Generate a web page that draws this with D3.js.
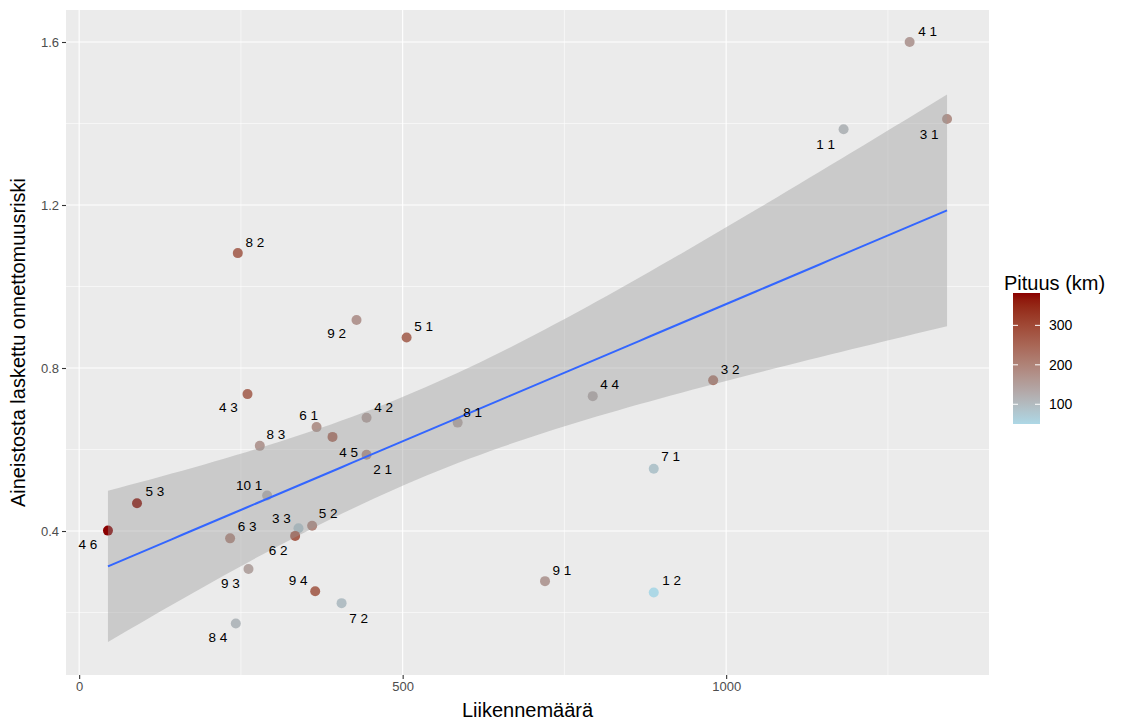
<!DOCTYPE html>
<html>
<head>
<meta charset="utf-8">
<script src="https://cdn.jsdelivr.net/npm/d3@7"></script>
<style>
  html, body { margin: 0; padding: 0; background: #ffffff; }
  svg { display: block; font-family: "Liberation Sans", Arial, sans-serif; }
</style>
</head>
<body>
<svg id="chart" width="1126" height="724"></svg>
<script>
// ---- data ----
const labels = ["4 6","5 3","4 3","6 1","4 5","4 2","2 1","8 3","9 2","5 1","8 1","8 2","10 1","3 3","5 2","6 2","6 3","9 3","9 4","7 2","8 4","4 4","3 2","7 1","9 1","1 2","4 1","1 1","3 1"];
const liikennemaara = [44.5, 89.4, 260.2, 366.9, 391.6, 444.2, 444.2, 279.2, 428.7, 506.1, 585.0, 245.2, 290.5, 339.0, 360.1, 333.8, 233.3, 261.7, 364.8, 405.6, 242.1, 793.8, 979.9, 888.1, 720.0, 888.1, 1283.6, 1181.5, 1341.4];
const riski = [0.401, 0.468, 0.736, 0.655, 0.631, 0.678, 0.587, 0.609, 0.918, 0.875, 0.666, 1.082, 0.487, 0.407, 0.413, 0.388, 0.382, 0.307, 0.252, 0.223, 0.173, 0.731, 0.770, 0.553, 0.277, 0.249, 1.600, 1.386, 1.411];
const pituus = [382, 370, 235, 170, 240, 150, 180, 160, 163, 235, 140, 240, 120, 80, 190, 260, 195, 140, 245, 95, 105, 130, 215, 85, 155, 50, 155, 110, 175];
const xTicks = [0, 500, 1000];
const xMinor = [250, 750, 1250];
const yTicks = [0.4, 0.8, 1.2, 1.6];
const yMinor = [0.2, 0.6, 1.0, 1.4];
const legendTicks = [100, 200, 300];

// ---- layout (label offsets in px, not data) ----
const labelOffsets = [[-20,14],[18,-12],[-19,13],[-8,-12],[16,16],[17,-10],[16,15],[16,-11],[-20,14],[17,-11],[15,-10],[17,-11],[-18,-10],[-17,-10],[16,-12],[-17,15],[17,-12],[-18,15],[-17,-11],[17,15],[-18,14],[17,-12],[17,-11],[17,-12],[17,-11],[18,-12],[18,-11],[-18,15],[-18,15]];

const svg = d3.select("#chart");
const P = {left: 66, right: 989, top: 10, bottom: 675};

const pts = labels.map((l, i) => ({label: l, x: liikennemaara[i], y: riski[i], c: pituus[i], off: labelOffsets[i]}));

// ---- linear regression with 95% CI ----
const n = pts.length;
const mx = d3.mean(pts, d => d.x), my = d3.mean(pts, d => d.y);
const sxx = d3.sum(pts, d => (d.x - mx) ** 2);
const sxy = d3.sum(pts, d => (d.x - mx) * (d.y - my));
const b1 = sxy / sxx, b0 = my - b1 * mx;
const sse = d3.sum(pts, d => (d.y - (b0 + b1 * d.x)) ** 2);
const s = Math.sqrt(sse / (n - 2));
const tq = 2.052; // t(0.975, df=27)
const xExt = d3.extent(pts, d => d.x);
const fit = d3.range(80).map(i => {
  const x = xExt[0] + (xExt[1] - xExt[0]) * i / 79;
  const yhat = b0 + b1 * x;
  const se = s * Math.sqrt(1 / n + (x - mx) ** 2 / sxx);
  return {x, y: yhat, lo: yhat - tq * se, hi: yhat + tq * se};
});

// ---- scales ----
const xs = xExt[1] - xExt[0];
const x = d3.scaleLinear().domain([xExt[0] - 0.05 * xs, xExt[1] + 0.05 * xs]).range([P.left, P.right]);
const yLo = Math.min(d3.min(pts, d => d.y), d3.min(fit, d => d.lo));
const yHi = Math.max(d3.max(pts, d => d.y), d3.max(fit, d => d.hi));
const ys = yHi - yLo;
const y = d3.scaleLinear().domain([yLo - 0.05 * ys, yHi + 0.05 * ys]).range([672, 12]);
const cExt = d3.extent(pituus);
const color = d3.scaleSequential(d3.interpolateLab("lightblue", "darkred")).domain(cExt);

// ---- panel ----
svg.append("rect").attr("x", P.left).attr("y", P.top).attr("width", P.right - P.left).attr("height", P.bottom - P.top).attr("fill", "#EBEBEB");
const grid = svg.append("g");
xMinor.forEach(v => grid.append("line").attr("x1", x(v)).attr("x2", x(v)).attr("y1", P.top).attr("y2", P.bottom).attr("stroke", "#fff").attr("stroke-width", 0.55));
yMinor.forEach(v => grid.append("line").attr("y1", y(v)).attr("y2", y(v)).attr("x1", P.left).attr("x2", P.right).attr("stroke", "#fff").attr("stroke-width", 0.55));
xTicks.forEach(v => grid.append("line").attr("x1", x(v)).attr("x2", x(v)).attr("y1", P.top).attr("y2", P.bottom).attr("stroke", "#fff").attr("stroke-width", 1.1));
yTicks.forEach(v => grid.append("line").attr("y1", y(v)).attr("y2", y(v)).attr("x1", P.left).attr("x2", P.right).attr("stroke", "#fff").attr("stroke-width", 1.1));

// ---- points ----
svg.append("g").selectAll("circle").data(pts).join("circle")
  .attr("cx", d => x(d.x)).attr("cy", d => y(d.y)).attr("r", 5)
  .attr("fill", d => color(d.c));

// ---- smooth ----
svg.append("path").datum(fit)
  .attr("d", d3.area().x(d => x(d.x)).y0(d => y(d.lo)).y1(d => y(d.hi)))
  .attr("fill", "#999999").attr("fill-opacity", 0.4);
svg.append("path").datum(fit)
  .attr("d", d3.line().x(d => x(d.x)).y(d => y(d.y)))
  .attr("fill", "none").attr("stroke", "#3366FF").attr("stroke-width", 2);

// ---- labels ----
svg.append("g").selectAll("text").data(pts).join("text")
  .attr("x", d => x(d.x) + d.off[0]).attr("y", d => y(d.y) + d.off[1])
  .attr("text-anchor", "middle").attr("dominant-baseline", "central")
  .attr("font-size", 13.5).attr("fill", "#000").text(d => d.label);

// ---- axes ----
const xAxis = svg.append("g").attr("transform", `translate(0,${P.bottom})`)
  .call(d3.axisBottom(x).tickValues(xTicks).tickFormat(d3.format("d")).tickSize(4).tickPadding(3));
const yAxis = svg.append("g").attr("transform", `translate(${P.left},0)`)
  .call(d3.axisLeft(y).tickValues(yTicks).tickFormat(d3.format(".1f")).tickSize(4).tickPadding(3));
[xAxis, yAxis].forEach(a => {
  a.select(".domain").remove();
  a.selectAll(".tick line").attr("stroke", "#333333").attr("stroke-width", 1.1);
  a.selectAll(".tick text").attr("fill", "#4D4D4D").attr("font-size", 13).attr("font-family", "Liberation Sans, Arial, sans-serif");
});

svg.append("text").attr("x", (P.left + P.right) / 2).attr("y", 717).attr("text-anchor", "middle")
  .attr("font-size", 20).attr("fill", "#000").text("Liikennemäärä");
svg.append("text").attr("transform", `translate(25,${(P.top + P.bottom) / 2}) rotate(-90)`).attr("text-anchor", "middle")
  .attr("font-size", 20).attr("fill", "#000").text("Aineistosta laskettu onnettomuusriski");

// ---- legend ----
const L = {x: 1013, top: 293, bottom: 424, w: 27};
const lc = d3.scaleLinear().domain(cExt).range([L.bottom, L.top]);
const defs = svg.append("defs");
const grad = defs.append("linearGradient").attr("id", "lg").attr("x1", 0).attr("y1", 1).attr("x2", 0).attr("y2", 0);
d3.range(0, 1.0001, 0.05).forEach(t => grad.append("stop").attr("offset", t).attr("stop-color", color(cExt[0] + t * (cExt[1] - cExt[0]))));
svg.append("text").attr("x", 1004).attr("y", 290).attr("font-size", 20).attr("fill", "#000").text("Pituus (km)");
svg.append("rect").attr("x", L.x).attr("y", L.top).attr("width", L.w).attr("height", L.bottom - L.top).attr("fill", "url(#lg)");
legendTicks.forEach(v => {
  svg.append("line").attr("x1", L.x).attr("x2", L.x + 5).attr("y1", lc(v)).attr("y2", lc(v)).attr("stroke", "#fff").attr("stroke-width", 1);
  svg.append("line").attr("x1", L.x + L.w - 5).attr("x2", L.x + L.w).attr("y1", lc(v)).attr("y2", lc(v)).attr("stroke", "#fff").attr("stroke-width", 1);
  svg.append("text").attr("x", 1049).attr("y", lc(v)).attr("dominant-baseline", "central").attr("font-size", 14).attr("fill", "#000").text(v);
});
</script>
</body>
</html>
